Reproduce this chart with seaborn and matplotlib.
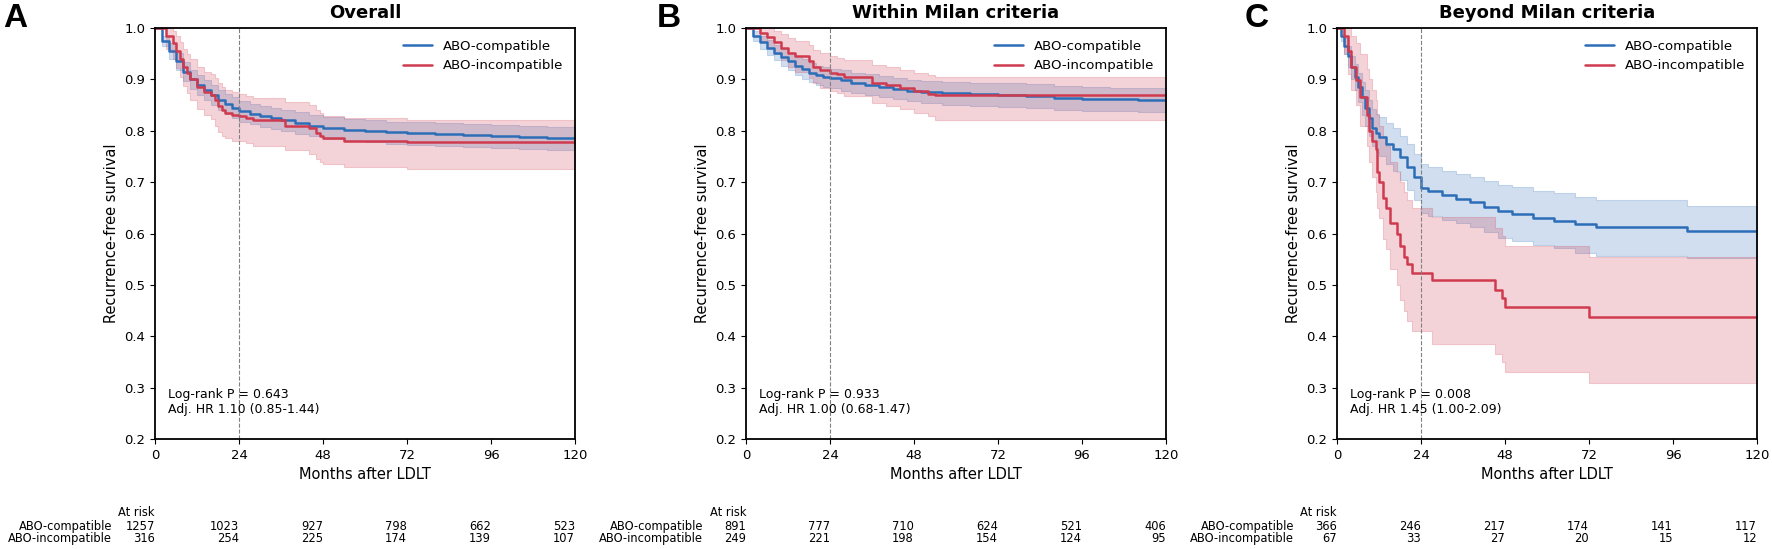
import numpy as np
import pandas as pd
import matplotlib
matplotlib.use("Agg")
import matplotlib.pyplot as plt
import matplotlib.transforms as mtransforms
import seaborn as sns

sns.set_style("ticks")
plt.rcParams['font.family'] = ['DejaVu Sans']
plt.rcParams.update({'text.color': 'black', 'axes.labelcolor': 'black',
                     'axes.edgecolor': 'black', 'xtick.color': 'black',
                     'ytick.color': 'black'})

BLUE = '#2c6db8'
RED = '#cf3a4e'

panel_titles = ["Overall", "Within Milan criteria", "Beyond Milan criteria"]
panel_letters = ["A", "B", "C"]
group_names = ["ABO-compatible", "ABO-incompatible"]
stats_text = [
    "Log-rank P = 0.643\nAdj. HR 1.10 (0.85-1.44)",
    "Log-rank P = 0.933\nAdj. HR 1.00 (0.68-1.47)",
    "Log-rank P = 0.008\nAdj. HR 1.45 (1.00-2.09)",
]
risk_times = [0, 24, 48, 72, 96, 120]
risk_compat = [[1257, 1023, 927, 798, 662, 523],
               [891, 777, 710, 624, 521, 406],
               [366, 246, 217, 174, 141, 117]]
risk_incompat = [[316, 254, 225, 174, 139, 107],
                 [249, 221, 198, 154, 124, 95],
                 [67, 33, 27, 20, 15, 12]]

# --- Overall ---
a_comp_t = [0, 2, 4, 6, 8, 10, 12, 14, 16, 18, 20, 22, 24, 27, 30, 33, 36, 40, 44, 48, 54, 60, 66, 72, 80, 88, 96, 104, 112, 120]
a_comp_s = [1.0, .975, .955, .935, .915, .900, .890, .880, .870, .860, .852, .845, .838, .833, .828, .824, .820, .815, .810, .805, .802, .800, .797, .795, .793, .791, .790, .788, .786, .786]
a_comp_lo = [1.0, .965, .940, .918, .897, .882, .870, .860, .850, .840, .832, .825, .818, .813, .808, .804, .800, .794, .789, .784, .781, .778, .775, .772, .770, .768, .766, .764, .762, .762]
a_comp_hi = [1.0, .985, .970, .952, .933, .918, .908, .899, .889, .880, .872, .865, .858, .853, .848, .844, .840, .836, .831, .826, .823, .821, .818, .817, .815, .813, .812, .810, .808, .808]

a_inc_t = [0, 3, 5, 6, 7, 8, 9, 10, 12, 14, 16, 17, 18, 19, 20, 22, 24, 26, 28, 37, 44, 46, 47, 48, 54, 72, 120]
a_inc_s = [1.0, .985, .970, .955, .940, .925, .912, .900, .885, .875, .870, .860, .848, .840, .835, .830, .828, .825, .820, .810, .805, .795, .790, .785, .780, .778, .778]
a_inc_lo = [1.0, .960, .940, .922, .905, .888, .873, .860, .842, .830, .822, .810, .797, .790, .785, .780, .780, .776, .770, .762, .755, .745, .740, .736, .730, .725, .725]
a_inc_hi = [1.0, 1.0, .995, .985, .972, .960, .950, .940, .925, .915, .910, .902, .893, .886, .880, .875, .871, .868, .864, .855, .850, .840, .835, .829, .824, .820, .820]

# --- Within Milan ---
b_comp_t = [0, 2, 4, 6, 8, 10, 12, 14, 16, 18, 20, 22, 24, 27, 30, 34, 38, 42, 46, 50, 56, 64, 72, 80, 88, 96, 104, 112, 120]
b_comp_s = [1.0, .985, .972, .962, .952, .943, .935, .927, .920, .913, .908, .905, .902, .898, .893, .890, .886, .882, .878, .875, .873, .871, .870, .868, .864, .862, .861, .860, .860]
b_comp_lo = [1.0, .975, .960, .948, .937, .927, .918, .909, .901, .894, .889, .886, .883, .878, .873, .869, .865, .861, .857, .854, .851, .849, .847, .845, .841, .839, .838, .837, .837]
b_comp_hi = [1.0, .995, .984, .976, .967, .959, .952, .945, .939, .932, .927, .924, .921, .918, .913, .911, .907, .903, .899, .896, .895, .893, .892, .891, .887, .885, .884, .883, .883]

b_inc_t = [0, 4, 6, 8, 10, 12, 14, 18, 19, 21, 24, 26, 28, 36, 40, 44, 48, 52, 54, 120]
b_inc_s = [1.0, .990, .982, .972, .962, .952, .945, .935, .925, .918, .913, .910, .905, .893, .889, .884, .877, .872, .869, .869]
b_inc_lo = [1.0, .975, .962, .950, .937, .925, .915, .903, .892, .884, .878, .874, .868, .854, .849, .843, .835, .828, .820, .818]
b_inc_hi = [1.0, 1.0, 1.0, .995, .988, .980, .975, .966, .958, .952, .945, .942, .938, .928, .924, .918, .912, .908, .905, .905]

# --- Beyond Milan ---
c_comp_t = [0, 1, 2, 3, 4, 5, 6, 7, 8, 9, 10, 11, 12, 14, 16, 18, 20, 22, 24, 26, 30, 34, 38, 42, 46, 50, 56, 62, 68, 74, 100, 120]
c_comp_s = [1.0, .985, .965, .945, .925, .905, .885, .865, .845, .825, .805, .795, .788, .775, .765, .748, .730, .710, .688, .682, .675, .668, .662, .652, .643, .637, .630, .625, .618, .612, .604, .604]
c_comp_lo = [1.0, .975, .950, .925, .900, .880, .855, .830, .810, .790, .770, .758, .750, .735, .722, .705, .685, .665, .640, .634, .627, .620, .612, .602, .592, .585, .577, .571, .563, .556, .553, .553]
c_comp_hi = [1.0, .995, .980, .965, .945, .930, .912, .895, .880, .860, .842, .832, .826, .815, .806, .790, .775, .755, .735, .730, .722, .716, .710, .703, .695, .690, .682, .678, .671, .665, .654, .654]

c_inc_t = [0, 2, 3, 4, 5.5, 6.6, 8.5, 9, 10, 11, 11.5, 12, 13, 14, 15, 17, 18, 19, 20, 21.5, 27, 45, 47, 48, 72, 120]
c_inc_s = [1.0, .985, .955, .925, .898, .865, .830, .800, .780, .765, .720, .700, .670, .650, .620, .600, .575, .555, .540, .523, .510, .490, .475, .457, .437, .437]
c_inc_lo = [1.0, .950, .910, .880, .850, .810, .770, .740, .710, .680, .650, .630, .590, .570, .530, .500, .470, .450, .430, .410, .385, .365, .350, .331, .309, .309]
c_inc_hi = [1.0, 1.0, 1.0, .985, .970, .950, .920, .900, .880, .860, .830, .810, .790, .770, .740, .720, .700, .680, .665, .650, .632, .610, .595, .575, .555, .555]

curves = [
    [(a_comp_t, a_comp_s, a_comp_lo, a_comp_hi), (a_inc_t, a_inc_s, a_inc_lo, a_inc_hi)],
    [(b_comp_t, b_comp_s, b_comp_lo, b_comp_hi), (b_inc_t, b_inc_s, b_inc_lo, b_inc_hi)],
    [(c_comp_t, c_comp_s, c_comp_lo, c_comp_hi), (c_inc_t, c_inc_s, c_inc_lo, c_inc_hi)],
]

W, H = 1772, 549
fig = plt.figure(figsize=(W / 100, H / 100), dpi=100)
lefts = [155, 746, 1337]
letter_x = [3, 657, 1245]
ax_top, ax_bot = 28, 439

for i in range(3):
    ax = fig.add_axes([lefts[i] / W, 1 - ax_bot / H, 420 / W, (ax_bot - ax_top) / H])
    for (t, s, lo, hi), name, col in zip(curves[i], group_names, [BLUE, RED]):
        ax.fill_between(t, lo, hi, step='post', color=col, alpha=0.22, lw=0.8)
        df = pd.DataFrame({'t': t, 's': s})
        sns.lineplot(data=df, x='t', y='s', drawstyle='steps-post', color=col, lw=1.8,
                     label=name, ax=ax)
    ax.axvline(24, color='gray', ls='--', lw=0.8)
    ax.set_xlim(0, 120)
    ax.set_ylim(0.2, 1.0)
    ax.set_xticks(risk_times)
    ax.set_yticks(np.arange(0.2, 1.01, 0.1))
    ax.tick_params(labelsize=9.5)
    ax.set_xlabel("Months after LDLT", fontsize=10.5)
    ax.set_ylabel("Recurrence-free survival", fontsize=10.5)
    ax.set_title(panel_titles[i], fontsize=13, fontweight='bold', pad=7)
    ax.legend(loc='upper right', frameon=False, fontsize=9.5, handlelength=2.2)
    ax.text(0.03, 0.125, stats_text[i], transform=ax.transAxes, fontsize=9,
            va='top', ha='left', linespacing=1.2)
    for sp in ax.spines.values():
        sp.set_linewidth(1.3)

    trans = mtransforms.blended_transform_factory(ax.transData, ax.transAxes)
    ax.text(0, -0.178, "At risk", transform=trans, ha='right', va='center', fontsize=8.3)
    ax.text(-12.3, -0.212, group_names[0], transform=trans, ha='right', va='center', fontsize=8.3)
    ax.text(-12.3, -0.241, group_names[1], transform=trans, ha='right', va='center', fontsize=8.3)
    for x, n1, n2 in zip(risk_times, risk_compat[i], risk_incompat[i]):
        ax.text(x, -0.212, str(n1), transform=trans, ha='right', va='center', fontsize=8.3)
        ax.text(x, -0.241, str(n2), transform=trans, ha='right', va='center', fontsize=8.3)

    fig.text(letter_x[i] / W, 1 - 3 / H, panel_letters[i], fontsize=24, fontweight='bold',
             family='Liberation Sans', ha='left', va='top')

fig.savefig("out.png", dpi=100)
